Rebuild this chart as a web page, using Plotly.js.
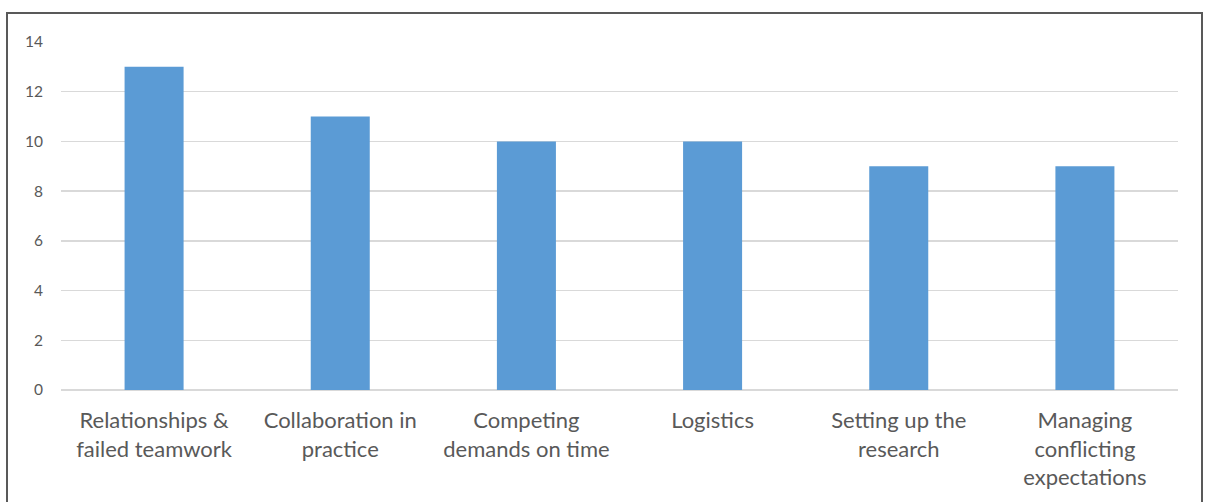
<!DOCTYPE html>
<html>
<head>
<meta charset="utf-8">
<script src="https://cdn.plot.ly/plotly-3.0.1.min.js"></script>
<style>
  html, body { margin: 0; padding: 0; background: #fff; }
  #frame { position: absolute; left: 6px; top: 12px; width: 1197px; height: 520px; border: 2px solid #595959; box-sizing: border-box; pointer-events: none; z-index: 5; }
  #chart { width: 1205px; height: 502px; }
</style>
</head>
<body>
<div id="frame"></div>
<div id="chart"></div>
<script>
const categories = [
  "Relationships &<br>failed teamwork",
  "Collaboration in<br>practice",
  "Competing<br>demands on time",
  "Logistics",
  "Setting up the<br>research",
  "Managing<br>conflicting<br>expectations"
];
const values = [13, 11, 10, 10, 9, 9];
const yTicks = [0, 2, 4, 6, 8, 10, 12, 14];

const trace = {
  type: 'bar',
  x: categories,
  y: values,
  marker: { color: '#5B9BD5' },
  hoverinfo: 'skip'
};

const FONT = 'Lato, Open Sans, sans-serif';

const layout = {
  width: 1205,
  height: 502,
  margin: { l: 61, r: 27, t: 42, b: 112 },
  paper_bgcolor: 'rgba(0,0,0,0)',
  plot_bgcolor: 'rgba(0,0,0,0)',
  bargap: 0.683,
  showlegend: false,
  font: { family: FONT, color: '#595959' },
  xaxis: {
    type: 'category',
    showgrid: false,
    showline: false,
    zeroline: false,
    ticks: '',
    ticklabelstandoff: 15,
    tickfont: { size: 22, color: '#595959', family: FONT },
    tickangle: 0
  },
  yaxis: {
    range: [0, 14],
    tickvals: yTicks,
    ticktext: yTicks.map(String),
    showgrid: true,
    gridcolor: '#d9d9d9',
    gridwidth: 1.5,
    zeroline: true,
    zerolinecolor: '#d9d9d9',
    zerolinewidth: 1.5,
    showline: false,
    ticks: '',
    ticklabelstandoff: 17,
    tickfont: { size: 15.5, color: '#595959', family: FONT }
  }
};

Plotly.newPlot('chart', [trace], layout, { displayModeBar: false, staticPlot: true });
</script>
</body>
</html>
